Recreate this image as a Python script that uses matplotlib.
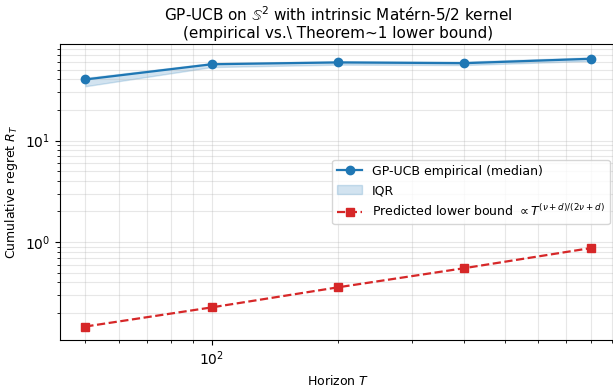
import numpy as np
import matplotlib
matplotlib.use("Agg")
import matplotlib.pyplot as plt

# Horizons and regret values
horizons = [50, 100, 200, 400, 800]
median_regret = [40.0, 56.5, 58.9, 57.9, 64.0]
iqr_low = [34.3, 53.0, 56.0, 55.5, 61.0]
iqr_high = [41.5, 58.0, 60.5, 60.0, 66.0]
predicted = [0.147, 0.227, 0.358, 0.553, 0.872]

fig = plt.figure(figsize=(6.13, 3.89), dpi=100)
ax = fig.add_axes([0.098, 0.126, 0.907, 0.761])

ax.plot(horizons, median_regret, "o-", color="tab:blue", lw=1.6, ms=6,
        label="GP-UCB empirical (median)")
ax.fill_between(horizons, iqr_low, iqr_high, color="tab:blue", alpha=0.2,
                label="IQR")
ax.plot(horizons, predicted, "s--", color="tab:red", lw=1.6, ms=6,
        label=r"Predicted lower bound $\propto T^{(\nu+d)/(2\nu+d)}$")

ax.set_xscale("log")
ax.set_yscale("log")
ax.grid(True, which="both", alpha=0.3)
ax.set_xlabel("Horizon $T$", fontsize=9)
ax.set_ylabel("Cumulative regret $R_T$", fontsize=9)
ax.set_title("GP-UCB on $\\mathbb{S}^2$ with intrinsic Matérn-5/2 kernel\n"
             "(empirical vs.\\ Theorem~1 lower bound)", fontsize=11, pad=4)
ax.legend(loc="center right", fontsize=9)

fig.savefig("out.png", dpi=100)
